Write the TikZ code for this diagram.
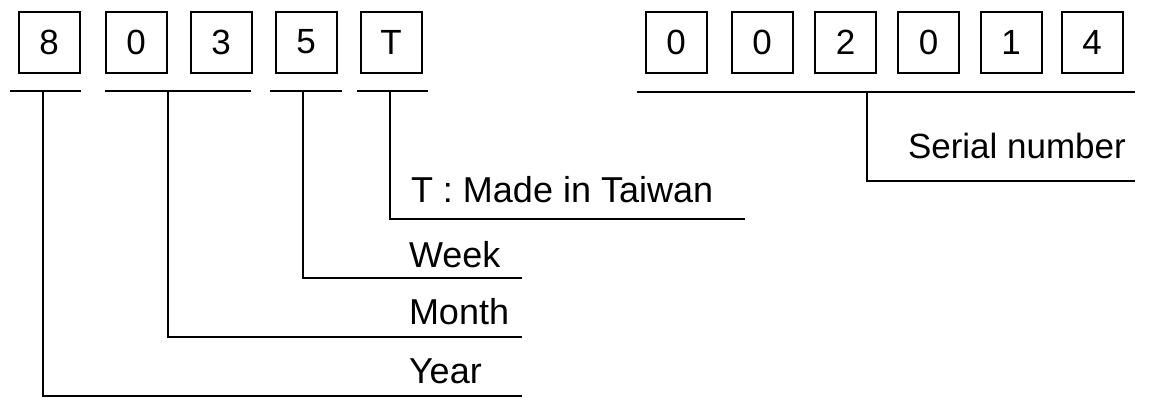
\documentclass[tikz,border=0pt]{standalone}
\usepackage{fontspec}
\setmainfont{Liberation Sans}
\begin{document}
\begin{tikzpicture}[x=1pt,y=-1pt,
  line width=2pt,
  digitbox/.style={draw, minimum width=61pt, minimum height=61pt, inner sep=0pt, font=\fontsize{35}{40}\selectfont},
  lbl/.style={anchor=base west, inner sep=0pt, font=\fontsize{36}{40}\selectfont}]
\useasboundingbox (0,0) rectangle (1158,399);
% left boxes
\node[digitbox] (b8) at (49,42) {8};
\node[digitbox] (b0) at (136,42) {0};
\node[digitbox] (b3) at (221,42) {3};
\node[digitbox] (b5) at (306,42) {5};
\node[digitbox] (bT) at (391,42) {T};
% right boxes
\node[digitbox] (s1) at (676,42) {0};
\node[digitbox] (s2) at (762,42) {0};
\node[digitbox] (s3) at (845.5,42) {2};
\node[digitbox] (s4) at (928.5,42) {0};
\node[digitbox] (s5) at (1011,42) {1};
\node[digitbox] (s6) at (1092,42) {4};
% coordinates
\coordinate (u8a) at (10,91);  \coordinate (u8b) at (81,91);
\coordinate (u8m) at (43,91);  \coordinate (c8) at (43,396);  \coordinate (e8) at (522,396);
\coordinate (u0a) at (105,91); \coordinate (u0b) at (251,91);
\coordinate (u0m) at (168,91); \coordinate (c0) at (168,337); \coordinate (e0) at (522,337);
\coordinate (u5a) at (270,91); \coordinate (u5b) at (342,91);
\coordinate (u5m) at (303,91); \coordinate (c5) at (303,278); \coordinate (e5) at (522,278);
\coordinate (uTa) at (357,91); \coordinate (uTb) at (428,91);
\coordinate (uTm) at (390,91); \coordinate (cT) at (390,219); \coordinate (eT) at (745,219);
\coordinate (usa) at (637,92); \coordinate (usb) at (1135,92);
\coordinate (usm) at (867,92); \coordinate (cs) at (867,181); \coordinate (es) at (1135,181);
% brackets
\draw (u8a) -- (u8b);  \draw (u8m) -- (c8) -- (e8);
\draw (u0a) -- (u0b);  \draw (u0m) -- (c0) -- (e0);
\draw (u5a) -- (u5b);  \draw (u5m) -- (c5) -- (e5);
\draw (uTa) -- (uTb);  \draw (uTm) -- (cT) -- (eT);
\draw (usa) -- (usb);  \draw (usm) -- (cs) -- (es);
% labels
\node[lbl] (lT) at (410,202) {T : Made in Taiwan};
\node[lbl] (lW) at (408,267) {Week};
\node[lbl] (lM) at (408,324) {Month};
\node[lbl] (lY) at (408,383) {Year};
\node[lbl, font=\fontsize{35}{40}\selectfont] (lS) at (907,158) {Serial number};
\end{tikzpicture}
\end{document}
